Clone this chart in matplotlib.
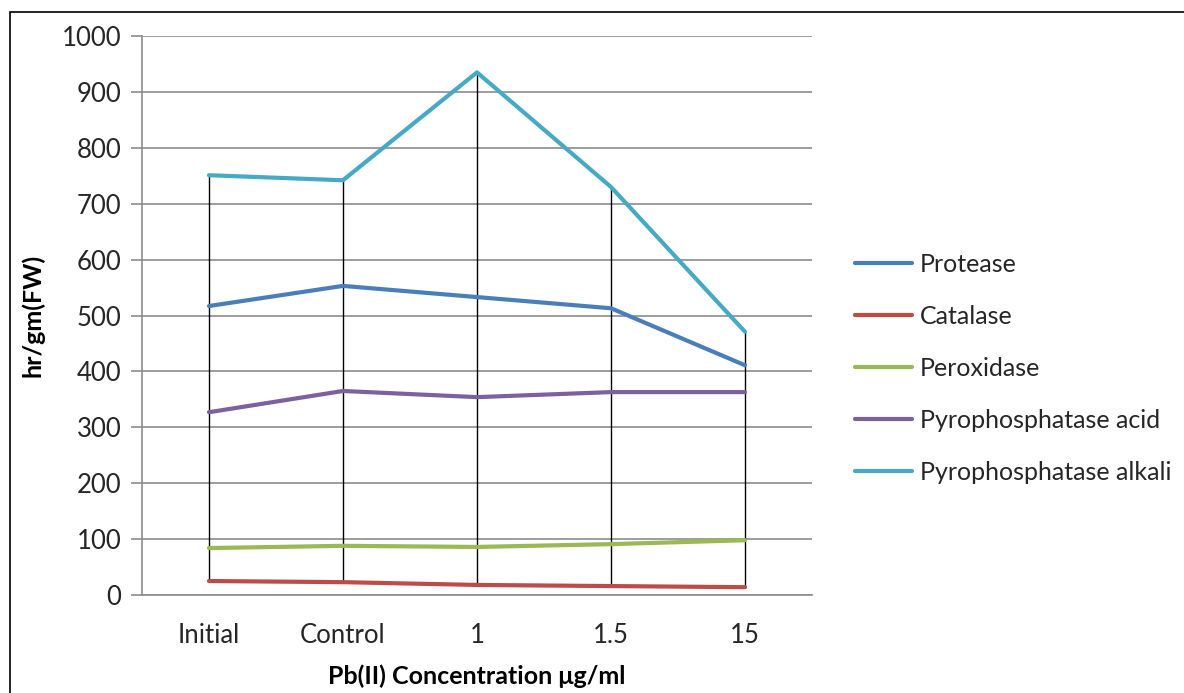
import numpy as np
import matplotlib.pyplot as plt
from matplotlib.patches import Rectangle

categories = ['Initial', 'Control', '1', '1.5', '15']
protease = [517, 553, 533, 513, 411]
catalase = [25, 23, 18, 16, 14]
peroxidase = [84, 88, 86, 91, 98]
pyro_acid = [327, 365, 354, 363, 363]
pyro_alkali = [751, 742, 935, 730, 471]

series = [
    ('Protease', protease, '#4A7EBB'),
    ('Catalase', catalase, '#BE4B48'),
    ('Peroxidase', peroxidase, '#98B954'),
    ('Pyrophosphatase acid', pyro_acid, '#7D60A0'),
    ('Pyrophosphatase alkali', pyro_alkali, '#46AAC5'),
]

plt.rcParams['font.family'] = ['Lato', 'DejaVu Sans']

fig = plt.figure(figsize=(11.84, 6.93), dpi=100)
ax = fig.add_axes([0.1199, 0.1414, 0.5659, 0.8066])

x = np.arange(len(categories))
values = np.array([s[1] for s in series])

# high-low lines between the lowest and highest series at each category
ax.vlines(x, values.min(axis=0), values.max(axis=0), color='black', lw=1.0, zorder=2)

for name, vals, color in series:
    ax.plot(x, vals, color=color, lw=3.0, label=name, solid_capstyle='round', zorder=3)

ax.set_xlim(-0.5, len(categories) - 0.5)
ax.set_ylim(0, 1000)
ax.set_yticks(range(0, 1001, 100))
ax.set_xticks(x)
ax.set_xticklabels(categories)
ax.grid(axis='y', color='#8c8c8c', lw=1.2)
ax.set_axisbelow(True)
for side in ['top', 'right']:
    ax.spines[side].set_visible(False)
ax.spines['left'].set_color('#8c8c8c')
ax.spines['bottom'].set_color('#8c8c8c')
ax.spines['left'].set_linewidth(1.2)
ax.spines['bottom'].set_linewidth(1.2)
ax.tick_params(axis='y', length=8, width=1.2, color='#8c8c8c', labelsize=18.5, labelcolor='#262626', pad=7)
ax.tick_params(axis='x', length=0, labelsize=18.5, labelcolor='#262626', pad=20)

ax.set_ylabel('hr/gm(FW)', fontsize=18, fontweight='bold', labelpad=12)
ax.set_xlabel('Pb(II) Concentration μg/ml', fontsize=18, fontweight='bold', labelpad=12)

fig.legend(loc='upper left', bbox_to_anchor=(0.703, 0.668), frameon=False,
           fontsize=18, handlelength=2.3, handletextpad=0.3, labelspacing=1.16,
           labelcolor='#262626')

fig.patches.append(Rectangle((10 / 1184, -0.01), 1.2, 1 - 12 / 693 + 0.01,
                             transform=fig.transFigure, fill=False,
                             edgecolor='black', lw=1.2))

fig.savefig('out.png', dpi=100)
